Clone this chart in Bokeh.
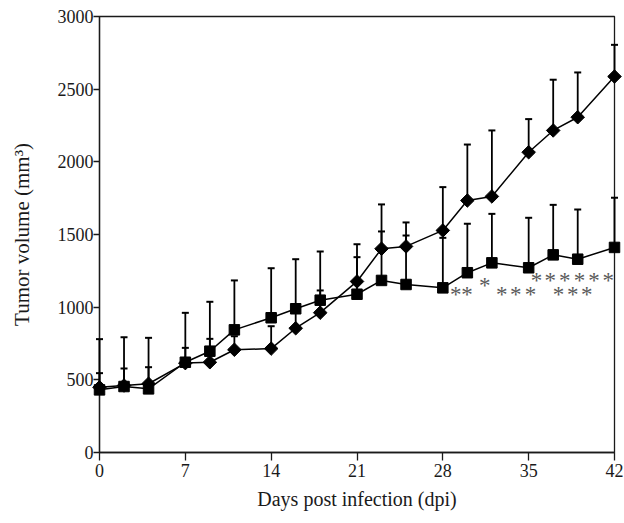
import math
from bokeh.plotting import figure
from bokeh.models import Range1d, FixedTicker, ColumnDataSource
from bokeh.core.properties import value
from bokeh.embed import file_html
from bokeh.resources import INLINE

# ---- data ----
days = [0, 2, 4, 7, 9, 11, 14, 16, 18, 21, 23, 25, 28, 30, 32, 35, 37, 39, 42]
diamond_vol = [449, 461, 473, 615, 621, 707, 715, 855, 962, 1177, 1402, 1418, 1528, 1734, 1762, 2066, 2216, 2307, 2587]
diamond_upper = [546, 578, 587, 720, 782, 800, 869, 960, 1115, 1433, 1707, 1583, 1826, 2119, 2216, 2294, 2565, 2615, 2805]
square_vol = [431, 454, 438, 621, 697, 844, 927, 989, 1048, 1089, 1184, 1156, 1133, 1237, 1305, 1271, 1360, 1330, 1411]
square_upper = [780, 793, 789, 961, 1037, 1184, 1268, 1330, 1383, 1344, 1521, 1493, 1477, 1574, 1642, 1615, 1704, 1672, 1753]

x_ticks = [0, 7, 14, 21, 28, 35, 42]
y_ticks = [0, 500, 1000, 1500, 2000, 2500, 3000]

# significance asterisks (annotation)
star_x = [29.06, 29.98, 31.42, 32.80, 33.94, 35.14, 37.44, 38.60, 39.74,
          35.63, 36.77, 37.95, 39.15, 40.32, 41.49]
star_y = [1090, 1090, 1148, 1090, 1090, 1090, 1090, 1090, 1090,
          1185, 1185, 1185, 1185, 1185, 1185]

INK = "#1a1a1a"
FONT = "Liberation Serif"

p = figure(width=624, height=523, x_range=Range1d(0, 42), y_range=Range1d(0, 3000),
           output_backend="svg", toolbar_location=None,
           min_border_left=99, min_border_right=10, min_border_top=16, min_border_bottom=71)

p.xgrid.visible = False
p.ygrid.visible = False
p.background_fill_color = "white"
p.border_fill_color = "white"
p.outline_line_color = INK
p.outline_line_width = 1.3

for ax, ticks in ((p.xaxis, x_ticks), (p.yaxis, y_ticks)):
    ax.ticker = FixedTicker(ticks=ticks)
    ax.minor_tick_line_color = None
    ax.major_tick_in = 0
    ax.major_tick_out = 8
    ax.major_tick_line_color = INK
    ax.major_tick_line_width = 1.3
    ax.axis_line_color = INK
    ax.axis_line_width = 1.3
    ax.major_label_text_font = FONT
    ax.major_label_text_font_size = "18px"
    ax.major_label_text_color = INK
    ax.axis_label_text_font = FONT
    ax.axis_label_text_font_style = "normal"
    ax.axis_label_text_color = INK

p.yaxis.major_tick_out = 6
p.xaxis.axis_label = "Days post infection (dpi)"
p.yaxis.axis_label = "Tumor volume (mm³)"
p.xaxis.axis_label_text_font_size = "20px"
p.yaxis.axis_label_text_font_size = "21px"
p.xaxis.major_label_standoff = 3
p.yaxis.major_label_standoff = 0
p.xaxis.axis_label_standoff = 8
p.yaxis.axis_label_standoff = 21

src_d = ColumnDataSource(dict(x=days, y=diamond_vol, top=diamond_upper))
src_s = ColumnDataSource(dict(x=days, y=square_vol, top=square_upper))

for src in (src_d, src_s):
    r = p.segment(x0="x", y0="y", x1="x", y1="top", source=src, line_color="black", line_width=1.8)
    r.level = "overlay"
    r = p.scatter(x="x", y="top", source=src, marker="dash", size=7, line_color="black", line_width=2)
    r.level = "overlay"

r = p.line(x="x", y="y", source=src_d, line_color="black", line_width=1.5)
r.level = "overlay"
r = p.line(x="x", y="y", source=src_s, line_color="black", line_width=1.5)
r.level = "overlay"
r = p.scatter(x="x", y="y", source=src_d, marker="square", angle=math.pi / 4, size=9.6,
              fill_color="black", line_color="black")
r.level = "overlay"
r = p.scatter(x="x", y="y", source=src_s, marker="square", size=10.5, fill_color="black", line_color="black")
r.level = "overlay"

t = p.text(x=star_x, y=star_y, text=["*"] * len(star_x), text_font=value(FONT),
           text_font_size="23px", text_color="#5a5a5a", text_align="center", text_baseline="middle")

open("out.html", "w").write(file_html(p, INLINE))
